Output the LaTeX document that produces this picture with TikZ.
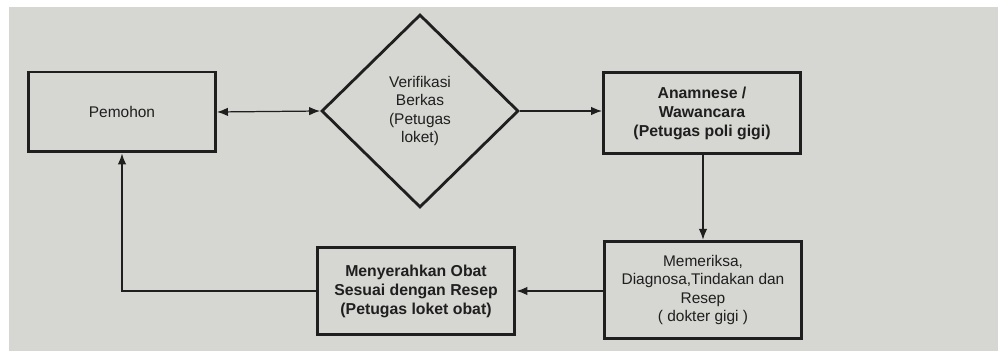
\documentclass[tikz,border=0pt]{standalone}
\usepackage{fontspec}
\setmainfont{Liberation Sans}
\usepackage{tikz}
\usetikzlibrary{
  arrows.meta,
  shapes.geometric
}
\definecolor{paper}{RGB}{214,214,210}
\colorlet{ink}{black!88}

\begin{document}
\begin{tikzpicture}[
  x=0.02cm,
  y=-0.02cm,
  every node/.style={
    font=\fontsize{8.8}{10.6}\selectfont,
    text=ink,
    align=center,
  },
  stepbox/.style={
    draw=ink,
    line width=1.7pt,
    minimum width=3.74cm,
    minimum height=1.6cm,
    inner sep=2pt,
  },
  bigstepbox/.style={
    stepbox,
    minimum width=3.95cm,
    minimum height=1.95cm,
  },
  midbox/.style={
    stepbox,
    minimum width=3.96cm,
    minimum height=1.74cm,
  },
  check/.style={
    draw=ink,
    line width=1.6pt,
    diamond,
    inner sep=0pt,
    minimum width=3.94cm,
    minimum height=3.86cm,
  },
  heavy/.style={
    font=\fontsize{9}{10.8}\selectfont\bfseries,
  },
  flow/.style={
    draw=ink,
    line width=0.7pt,
    -{Latex[length=2.2mm,width=1.7mm]},
  },
]
\useasboundingbox (0,0) rectangle (998,351);
\fill[paper] (9,7) rectangle (998,351);

\node[stepbox] (pemohon) at (122,112) {Pemohon};
\node[check] (verifikasi) at (420,111) {Verifikasi\\Berkas\\(Petugas\\loket)};
\node[stepbox,heavy,minimum width=3.94cm,minimum height=1.62cm] (anamnese) at (702,113)
  {Anamnese /\\Wawancara\\(Petugas poli gigi)};
\node[bigstepbox] (memeriksa) at (703,290)
  {Memeriksa,\\Diagnosa,Tindakan dan\\Resep\\( dokter gigi )};
\node[midbox,heavy] (obat) at (416,291)
  {Menyerahkan Obat\\Sesuai dengan Resep\\(Petugas loket obat)};

\draw[flow,{Latex[length=2.2mm,width=1.7mm]}-{Latex[length=2.2mm,width=1.7mm]}]
  (pemohon.east) -- (verifikasi.west);
\draw[flow] (verifikasi.east) -- (anamnese.west |- verifikasi.east);
\draw[flow] (anamnese.south -| memeriksa.north) -- (memeriksa.north);
\draw[flow] (memeriksa.west |- obat.east) -- (obat.east);
\draw[flow] (obat.west) -| (pemohon.south);
\end{tikzpicture}
\end{document}
